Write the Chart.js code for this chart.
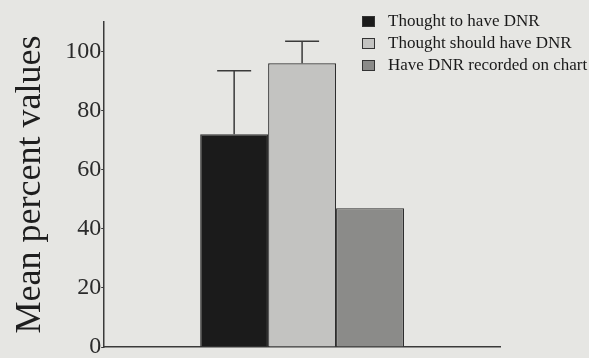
<!DOCTYPE html>
<html>
<head>
<meta charset="utf-8">
<script src="https://cdn.jsdelivr.net/npm/chart.js@4.4.1/dist/chart.umd.min.js"></script>
<style>
  html, body { margin:0; padding:0; background:#e6e6e3; overflow:hidden; width:589px; height:358px; }
  #wrap { position:absolute; left:0; top:0; width:589px; height:372px; }
  #legend { position:absolute; left:362px; top:10px; font-family:"Liberation Serif", serif; font-size:17px; color:#1a1a1a; white-space:nowrap; }
  #legend .row { height:22px; line-height:22px; display:flex; align-items:center; }
  #legend .sw { width:13px; height:11px; border:1px solid #333; margin-right:13px; box-sizing:border-box; }
</style>
</head>
<body>
<div id="wrap"><canvas id="c" width="589" height="372"></canvas></div>
<div id="legend"></div>
<script>
const categories = [''];
const seriesLabels = ['Thought to have DNR', 'Thought should have DNR', 'Have DNR recorded on chart'];
const meanValues = [72, 96, 47];
const errorUpper = [21.5, 7.5, 0];
const yTickValues = [0, 20, 40, 60, 80, 100];
const yTitle = 'Mean percent values';
const barColors = ['#1b1b1b', '#c3c3c1', '#8b8b89'];

const errorBarPlugin = {
  id: 'errorBars',
  afterDatasetsDraw(chart) {
    const ctx = chart.ctx;
    const y = chart.scales.y;
    ctx.save();
    ctx.strokeStyle = '#3a3a3a';
    ctx.lineWidth = 1.5;
    chart.data.datasets.forEach((ds, i) => {
      const err = errorUpper[i];
      if (!err) return;
      const meta = chart.getDatasetMeta(i);
      const bar = meta.data[0];
      const top = y.getPixelForValue(meanValues[i] + err);
      ctx.beginPath();
      ctx.moveTo(bar.x, bar.y);
      ctx.lineTo(bar.x, top);
      ctx.moveTo(bar.x - 17, top);
      ctx.lineTo(bar.x + 17, top);
      ctx.stroke();
    });
    ctx.restore();
  }
};

const datasets = seriesLabels.map((lab, i) => ({
  label: lab,
  data: [meanValues[i]],
  backgroundColor: barColors[i],
  borderColor: '#2e2e2e',
  borderWidth: 1.2,
  categoryPercentage: 0.515,
  barPercentage: 1.0
}));

new Chart(document.getElementById('c'), {
  type: 'bar',
  data: { labels: categories, datasets },
  options: {
    responsive: false,
    animation: false,
    layout: { padding: { left: 9, right: 89, top: 22, bottom: 17 } },
    plugins: { legend: { display: false }, tooltip: { enabled: false } },
    scales: {
      x: {
        grid: { display: false },
        border: { display: true, color: '#3a3a3a', width: 1.5 },
        ticks: { display: false }
      },
      y: {
        min: 0, max: 110,
        afterBuildTicks(axis) { axis.ticks = yTickValues.map(v => ({ value: v })); },
        grid: { drawOnChartArea: false, drawTicks: true, tickLength: 3, color: '#3a3a3a' },
        border: { display: true, color: '#3a3a3a', width: 1.5 },
        ticks: { color: '#2a2a2a', padding: 0, font: { family: 'Liberation Serif', size: 24 } },
        title: { display: true, text: yTitle, color: '#1e1e1e', padding: { top: 0, bottom: 13 }, font: { family: 'Liberation Serif', size: 36 } }
      }
    }
  },
  plugins: [errorBarPlugin]
});

const leg = document.getElementById('legend');
seriesLabels.forEach((lab, i) => {
  const row = document.createElement('div');
  row.className = 'row';
  const sw = document.createElement('span');
  sw.className = 'sw';
  sw.style.background = barColors[i];
  const t = document.createElement('span');
  t.textContent = lab;
  row.appendChild(sw); row.appendChild(t);
  leg.appendChild(row);
});
</script>
</body>
</html>
